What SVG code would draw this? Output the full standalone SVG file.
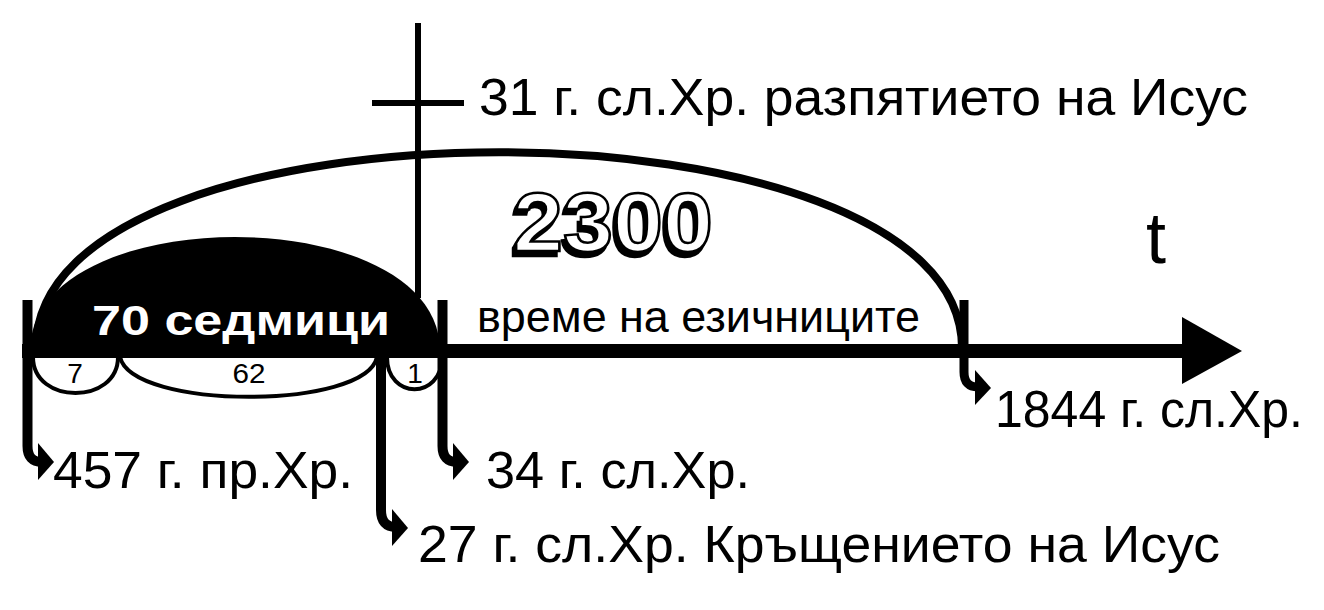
<svg xmlns="http://www.w3.org/2000/svg" width="1324" height="610" viewBox="0 0 1324 610">
  <style>
    .lbl { font-family: "Liberation Sans", Arial, sans-serif; font-size: 52px; fill: #000; }
    .small { font-family: "Liberation Sans", Arial, sans-serif; font-size: 28px; fill: #000; text-anchor: middle; }
    .thin { fill: none; stroke: #000; stroke-width: 4; }
    .bar { fill: none; stroke: #000; stroke-width: 10; }
    .head { fill: #000; }
    .big { font-family: "Liberation Sans", Arial, sans-serif; font-weight: bold; font-size: 84px; }
  </style>
  <defs>
    <filter id="shadow" x="-10%" y="-10%" width="120%" height="130%">
      <feOffset in="SourceAlpha" dx="-3" dy="5" result="off"/>
      <feMerge>
        <feMergeNode in="off"/>
        <feMergeNode in="SourceGraphic"/>
      </feMerge>
    </filter>
  </defs>
  <rect width="1324" height="610" fill="#fff"/>

  <g id="arc-2300">
    <path d="M 36 348 C 36 87, 962 87, 962 348" fill="none" stroke="#000" stroke-width="8"/>
  </g>

  <g id="dome-70">
    <path d="M 30 351 C 30 199, 440 199, 440 351 Z" fill="#000"/>
  </g>

  <g id="timeline">
    <rect x="22" y="344" width="1163" height="14" fill="#000"/>
    <polygon class="head" points="1182,317 1242,351 1182,384"/>
  </g>

  <g id="crucifixion-mark">
    <line x1="418" y1="23" x2="418" y2="298" stroke="#000" stroke-width="6"/>
    <line x1="372" y1="103" x2="464" y2="103" stroke="#000" stroke-width="6"/>
  </g>

  <g id="sub-arcs">
    <path class="thin" d="M 33 357 C 33 405, 118 405, 118 357"/>
    <path class="thin" d="M 120 357 C 132 410, 366 410, 377 357"/>
    <path class="thin" d="M 387 357 C 387 400, 442 400, 442 357"/>
  </g>

  <g id="connectors">
    <path class="bar" d="M 27.5 300 V 446 Q 27.5 462 42 462"/>
    <polygon class="head" points="38,443 54,462 38,480"/>
    <path class="bar" d="M 442.5 300 V 446 Q 442.5 462 457 462"/>
    <polygon class="head" points="453,443 469,462 453,480"/>
    <path class="bar" d="M 381 352 V 510 Q 381 527 396 527"/>
    <polygon class="head" points="392,509 408,528 392,546"/>
    <path d="M 964 300 V 372 Q 964 387 978 387" fill="none" stroke="#000" stroke-width="9"/>
    <polygon class="head" points="975,370 991,388 975,405"/>
  </g>

  <g id="label-70">
    <text x="92" y="335" font-family="Liberation Sans, Arial, sans-serif" font-weight="bold" font-size="42" fill="#fff" textLength="298" lengthAdjust="spacingAndGlyphs">70 седмици</text>
  </g>
  <g id="label-7"><text class="small" x="75" y="383">7</text></g>
  <g id="label-62"><text class="small" x="249" y="383" textLength="33" lengthAdjust="spacingAndGlyphs">62</text></g>
  <g id="label-1"><text class="small" x="415" y="383">1</text></g>

  <g id="label-2300">
    <text class="big" x="513" y="251" fill="#fff" stroke="#000" stroke-width="2.5" textLength="200" lengthAdjust="spacingAndGlyphs" filter="url(#shadow)">2300</text>
  </g>

  <g id="label-t">
    <text x="1146" y="263" font-family="Liberation Sans, Arial, sans-serif" font-size="72" fill="#000">t</text>
  </g>

  <g id="label-gentiles">
    <text x="477" y="332" font-family="Liberation Sans, Arial, sans-serif" font-size="44" fill="#000" textLength="443" lengthAdjust="spacingAndGlyphs">време на езичниците</text>
  </g>

  <g id="label-31">
    <text class="lbl" x="479" y="115" textLength="769" lengthAdjust="spacingAndGlyphs">31 г. сл.Хр. разпятието на Исус</text>
  </g>
  <g id="label-457">
    <text class="lbl" x="53" y="488" textLength="300" lengthAdjust="spacingAndGlyphs">457 г. пр.Хр.</text>
  </g>
  <g id="label-34">
    <text class="lbl" x="486" y="488" textLength="264" lengthAdjust="spacingAndGlyphs">34 г. сл.Хр.</text>
  </g>
  <g id="label-27">
    <text class="lbl" x="418" y="562" textLength="802" lengthAdjust="spacingAndGlyphs">27 г. сл.Хр. Кръщението на Исус</text>
  </g>
  <g id="label-1844">
    <text class="lbl" x="995" y="427" textLength="308" lengthAdjust="spacingAndGlyphs">1844 г. сл.Хр.</text>
  </g>
</svg>
